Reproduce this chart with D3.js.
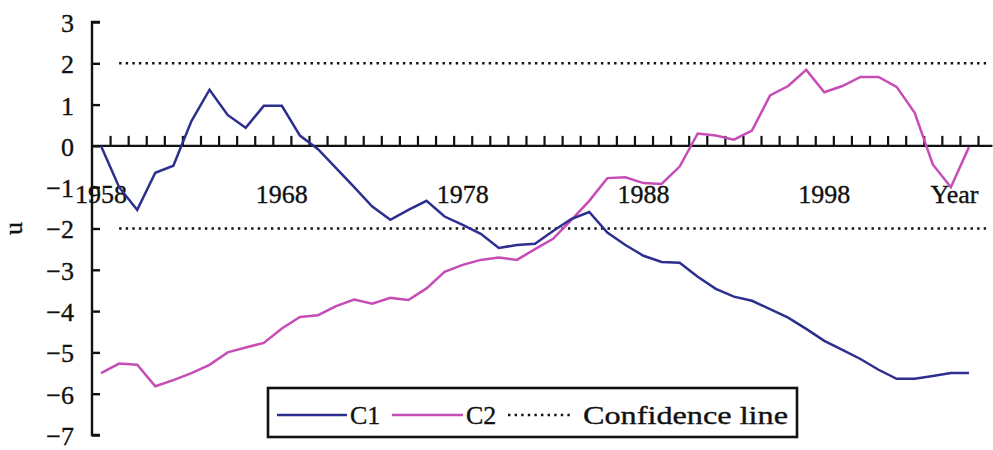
<!DOCTYPE html>
<html>
<head>
<meta charset="utf-8">
<script src="https://cdn.jsdelivr.net/npm/d3@7"></script>
<style>
  html, body { margin: 0; padding: 0; background: #ffffff; }
  svg { display: block; }
  text { font-family: "Liberation Serif", "DejaVu Serif", serif; fill: #111; stroke: #111; stroke-width: 0.35; }
</style>
</head>
<body>
<svg id="chart" width="993" height="450"></svg>
<script>
// ---- data ----
const years = d3.range(1958, 2007);
const c1 = [0, -1.0, -1.55, -0.65, -0.48, 0.6, 1.36, 0.75, 0.44, 0.97,
            0.97, 0.25, -0.08, -0.54, -1.0, -1.47, -1.79, -1.55, -1.33, -1.71,
            -1.91, -2.13, -2.47, -2.4, -2.37, -2.06, -1.77, -1.6, -2.1, -2.4,
            -2.66, -2.81, -2.83, -3.17, -3.46, -3.65, -3.75, -3.95, -4.16, -4.43,
            -4.72, -4.94, -5.16, -5.42, -5.64, -5.64, -5.57, -5.5, -5.5];
const c2 = [-5.5, -5.27, -5.3, -5.82, -5.67, -5.5, -5.3, -5.0, -4.88, -4.77,
            -4.42, -4.14, -4.1, -3.88, -3.72, -3.82, -3.68, -3.73, -3.45, -3.05,
            -2.88, -2.76, -2.7, -2.76, -2.5, -2.25, -1.8, -1.33, -0.78, -0.76,
            -0.9, -0.92, -0.5, 0.3, 0.25, 0.15, 0.37, 1.22, 1.45, 1.84,
            1.3, 1.45, 1.67, 1.67, 1.43, 0.8, -0.45, -1.0, -0.03];
const confidence = [2, -2];
const confidenceYears = [1959, 2007];
const yTicks = [3, 2, 1, 0, -1, -2, -3, -4, -5, -6, -7];
const xLabels = [1958, 1968, 1978, 1988, 1998];
const xTitle = "Year";
const yTitle = "u";
const legendNames = ["C1", "C2", "Confidence line"];

// ---- layout ----
const svg = d3.select("#chart");
const colC1 = "#2d2f8f", colC2 = "#c64db6";

const x = d3.scaleLinear().domain([1957.5, 2006.5]).range([92, 978]);
const y = d3.scaleLinear().domain([-7, 3]).range([435, 22]);

// confidence lines
confidence.forEach(v => {
  svg.append("line")
    .attr("x1", x(confidenceYears[0])).attr("x2", x(confidenceYears[1]))
    .attr("y1", y(v)).attr("y2", y(v))
    .attr("stroke", "#111").attr("stroke-width", 2.4)
    .attr("stroke-dasharray", "2.4,4.2");
});

// y axis
const yAxis = d3.axisRight(y).tickValues(yTicks).tickSize(8).tickFormat("");
const gy = svg.append("g").attr("transform", `translate(${x(1957.5)},0)`).call(yAxis);
gy.select(".domain").attr("stroke", "#111").attr("stroke-width", 2.4).attr("d", `M8,${y(3)}H0V${y(-7)}H8`);
gy.selectAll(".tick line").attr("stroke", "#111").attr("stroke-width", 2.4);

svg.append("g").selectAll("text").data(yTicks).join("text")
  .attr("x", 74).attr("y", d => y(d) + 4)
  .attr("text-anchor", "end").attr("dominant-baseline", "middle")
  .attr("font-size", 26)
  .text(d => d < 0 ? "\u2212" + Math.abs(d) : d);

// x axis at y=0
const boundaries = d3.range(1958.5, 2007.5, 1);
const xAxis = d3.axisTop(x).tickValues(boundaries).tickSize(10).tickFormat("");
const gx = svg.append("g").attr("transform", `translate(0,${y(0)})`).call(xAxis);
gx.select(".domain").attr("stroke", "#111").attr("stroke-width", 2.4)
  .attr("d", `M${x(1957.5)},0H${x(2007.3)}`);
gx.selectAll(".tick line").attr("stroke", "#111").attr("stroke-width", 2.2);

svg.append("g").selectAll("text").data(xLabels).join("text")
  .attr("x", d => x(d)).attr("y", y(0) + 57)
  .attr("text-anchor", "middle").attr("font-size", 26)
  .text(d => d);

svg.append("text").attr("x", x(2005.2)).attr("y", y(0) + 57)
  .attr("text-anchor", "middle").attr("font-size", 26).text(xTitle);

svg.append("text").attr("transform", `translate(22,${y(-2)}) rotate(-90)`)
  .attr("text-anchor", "middle").attr("font-size", 26).text(yTitle);

// series
const line = d3.line().x((d, i) => x(years[i])).y(d => y(d));
svg.append("path").datum(c2).attr("d", line)
  .attr("fill", "none").attr("stroke", colC2).attr("stroke-width", 2.5);
svg.append("path").datum(c1).attr("d", line)
  .attr("fill", "none").attr("stroke", colC1).attr("stroke-width", 2.5);

// legend
const lg = svg.append("g");
lg.append("rect").attr("x", 268).attr("y", 388).attr("width", 529).attr("height", 49)
  .attr("fill", "#fff").attr("stroke", "#111").attr("stroke-width", 2.6);
const ly = 415;
const items = [
  {x1: 277, x2: 347, tx: 350, color: colC1, dash: null, tl: null},
  {x1: 392, x2: 463, tx: 466, color: colC2, dash: null, tl: null},
  {x1: 508, x2: 574, tx: 583, color: "#111", dash: "2.4,4.2", tl: 205}
];
items.forEach((it, i) => {
  lg.append("line").attr("x1", it.x1).attr("x2", it.x2).attr("y1", ly).attr("y2", ly)
    .attr("stroke", it.color).attr("stroke-width", 2.5)
    .attr("stroke-dasharray", it.dash);
  const t = lg.append("text").attr("x", it.tx).attr("y", ly + 9)
    .attr("font-size", 26).text(legendNames[i]);
  if (it.tl) t.attr("textLength", it.tl).attr("lengthAdjust", "spacingAndGlyphs");
});
</script>
</body>
</html>
